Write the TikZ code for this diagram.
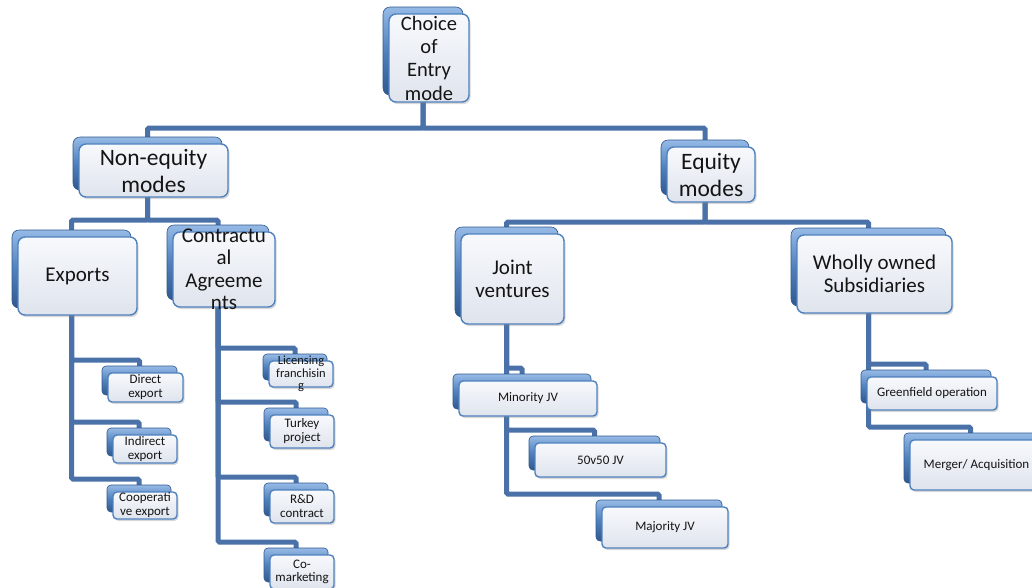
\documentclass[tikz,border=0pt]{standalone}
\usepackage{fontspec}
\setmainfont{Carlito}
\usetikzlibrary{shadows,calc}
\definecolor{conncol}{RGB}{74,114,168}
\definecolor{bktop}{RGB}{150,186,230}
\definecolor{bkmid}{RGB}{79,129,189}
\definecolor{bkbot}{RGB}{48,88,142}
\definecolor{frtop}{RGB}{247,249,252}
\definecolor{frbot}{RGB}{223,228,237}
\definecolor{frdraw}{RGB}{79,129,189}
\definecolor{txtcol}{RGB}{20,20,20}
\pgfdeclarelayer{bg}
\pgfsetlayers{bg,main}
\newcommand\mkbox[6][6]{%
  \node[backbox, rounded corners=#1pt, minimum width={#5-#3}, minimum height={#6-#4}] (#2b) at ({(#3+#5)/2-6},{(#4+#6)/2-7}) {};
  \node[frontbox, rounded corners=#1pt, minimum width={#5-#3}, minimum height={#6-#4}] (#2) at ({(#3+#5)/2},{(#4+#6)/2}) {};
}
\begin{document}
\begin{tikzpicture}[x=1pt,y=-1pt,
  backbox/.style={inner sep=0pt, outer sep=0pt, top color=bktop, bottom color=bkbot, middle color=bkmid, draw=bkbot, line width=0.6pt},
  frontbox/.style={inner sep=0pt, outer sep=0pt, top color=frtop, bottom color=frbot, draw=frdraw, line width=1.4pt,
     drop shadow={opacity=0.3, shadow xshift=1.5pt, shadow yshift=-2pt}},
  conn/.style={draw=conncol, line width=5pt, rounded corners=1.5pt},
  bigtxt/.style={align=center, inner sep=0pt, text=txtcol},
  smalltxt/.style={align=center, inner sep=0pt, text=txtcol, font=\fontsize{13}{14}\selectfont}]
\useasboundingbox (0,0) rectangle (1032,587);
\begin{pgfonlayer}{bg}
\fill[white] (0,0) rectangle (1032,587);
\end{pgfonlayer}
\clip (0,0) rectangle (1032,587);
% boxes
\mkbox[7]{root}{389}{14}{469}{102}
\mkbox[7]{noneq}{79}{144}{228}{197}
\mkbox[7]{equity}{667}{147}{755}{202}
\mkbox[7]{exports}{18}{237}{137}{315}
\mkbox[7]{contract}{173}{232}{275}{307}
\mkbox[7]{jv}{461}{234}{564}{324}
\mkbox[7]{wos}{797}{235}{952}{313}
\mkbox[4]{direct}{108}{373}{183}{402}
\mkbox[4]{indirect}{113}{435}{177}{463}
\mkbox[4]{coop}{113}{492}{177}{519}
\mkbox[4]{lic}{269}{361}{333}{387}
\mkbox[4]{turkey}{270}{415}{334}{448}
\mkbox[4]{rd}{270}{490}{334}{523}
\mkbox[4]{comark}{270}{555}{334}{589}
\mkbox[4]{minority}{459}{381}{597}{416}
\mkbox[4]{fifty}{535}{443}{666}{477}
\mkbox[4]{majority}{602}{507}{728}{548}
\mkbox[4]{green}{867}{377}{997}{410}
\mkbox[4]{merger}{910}{440}{1043}{490}
% texts
\node[bigtxt, font=\fontsize{20.5}{23.3}\selectfont] (roott) at (root) {Choice\\of\\Entry\\mode};
\node[bigtxt, font=\fontsize{23.5}{27}\selectfont] (noneqt) at (noneq) {Non-equity\\modes};
\node[bigtxt, font=\fontsize{23.5}{27}\selectfont] (equityt) at (equity) {Equity\\modes};
\node[bigtxt, font=\fontsize{21}{23}\selectfont] (exportst) at (exports) {Exports};
\node[bigtxt, font=\fontsize{21}{22.5}\selectfont] (contractt) at (contract) {Contractu\\al\\Agreeme\\nts};
\node[bigtxt, font=\fontsize{21}{23}\selectfont] (jvt) at (jv) {Joint\\ventures};
\node[bigtxt, font=\fontsize{21}{23}\selectfont] (wost) at (wos) {Wholly owned\\Subsidiaries};
\node[smalltxt] (directt) at (direct) {Direct\\export};
\node[smalltxt] (indirectt) at (indirect) {Indirect\\export};
\node[smalltxt] (coopt) at (coop) {Cooperati\\ve export};
\node[smalltxt, font=\fontsize{12.5}{12.5}\selectfont] (lict) at (lic) {Licensing\\franchisin\\g};
\node[smalltxt] (turkeyt) at (turkey) {Turkey\\project};
\node[smalltxt] (rdt) at (rd) {R\&D\\contract};
\node[smalltxt, font=\fontsize{13}{13}\selectfont] (comarkt) at (comark) {Co-\\marketing};
\node[smalltxt] (minorityt) at (minority) {Minority JV};
\node[smalltxt] (fiftyt) at (fifty) {50v50 JV};
\node[smalltxt] (majorityt) at (majority) {Majority JV};
\node[smalltxt] (greent) at (green) {Greenfield operation};
\node[smalltxt] (mergert) at (merger) {Merger/ Acquisition};
% connectors
\begin{pgfonlayer}{bg}
\draw[conn] (rootb.south) -- ++(0,33) -| (noneqb.north);
\draw[conn] (rootb.south) -- ++(0,33) -| (equityb.north);
\draw[conn] (noneqb.south) -- ++(0,30) -| (exportsb.north);
\draw[conn] (noneqb.south) -- ++(0,30) -| (contractb.north);
\draw[conn] (equityb.south) -- ++(0,27) -| (jvb.north);
\draw[conn] (equityb.south) -- ++(0,27) -| (wosb.north);
\foreach \p/\c in {exports/direct, exports/indirect, exports/coop,
                   contract/lic, contract/turkey, contract/rd, contract/comark,
                   jv/minority, jv/fifty, jv/majority,
                   wos/green, wos/merger}{
  \draw[conn] (\p b.south) |- ($(\c b.north)+(0,-6)$) -- (\c b.north);
}
\end{pgfonlayer}
\end{tikzpicture}
\end{document}
